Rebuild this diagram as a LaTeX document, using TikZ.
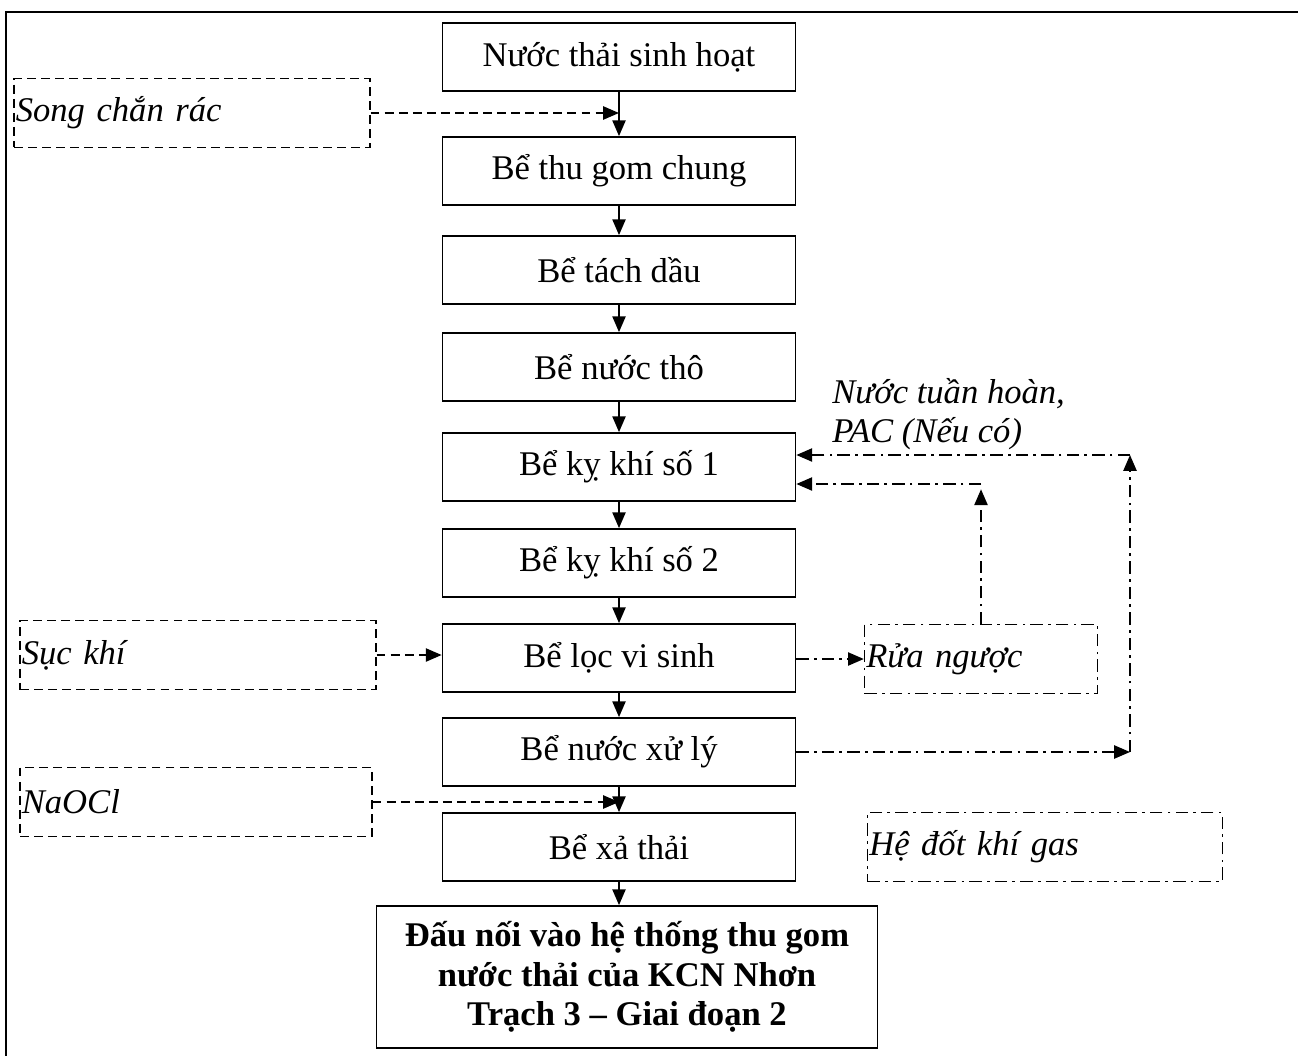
\documentclass[tikz,border=0pt]{standalone}
\usepackage{fontspec}
\setmainfont{Liberation Serif}
\usetikzlibrary{arrows.meta,positioning,calc}

\tikzset{
  stage/.style={draw, line width=1pt, minimum width=7.06cm, minimum height=1.36cm, inner sep=2pt},
  sidebox/.style={draw, line width=0.8pt, text width=#1, align=left, minimum height=1.38cm, inner xsep=1pt, font=\fontsize{19.7}{22}\selectfont\itshape},
  dashline/.style={dash pattern=on 5pt off 3pt},
  dotline/.style={dash pattern=on 7pt off 3pt on 1.5pt off 3pt}
}

\begin{document}
\begin{tikzpicture}[x=0.02cm, y=-0.02cm, >={Triangle[length=9pt,width=7.5pt]}, font=\fontsize{19.7}{22}\selectfont]
\useasboundingbox (0,0) rectangle (1298,1055);
\draw[line width=1pt] (6,1070) -- (6,12) -- (1310,12); % outer frame

% main line
\node[stage] (b1) at (619,57) {Nước thải sinh hoạt};
\node[stage] (b2) at (619,171) {Bể thu gom chung};
\node[stage] (b3) at (619,270) {Bể tách dầu};
\node[stage] (b4) at (619,367) {Bể nước thô};
\node[stage] (b5) at (619,467) {Bể kỵ khí số 1};
\node[stage] (b6) at (619,563) {Bể kỵ khí số 2};
\node[stage] (b7) at (619,658) {Bể lọc vi sinh};
\node[stage] (b8) at (619,752) {Bể nước xử lý};
\node[stage] (b9) at (619,847) {Bể xả thải};
\node[draw, line width=1pt, minimum width=10.02cm, minimum height=2.84cm, align=center, font=\fontsize{19.7}{22.5}\selectfont\bfseries] (out) at (627,977)
  {Đấu nối vào hệ thống thu gom\\ nước thải của KCN Nhơn\\ Trạch 3 – Giai đoạn 2};

\foreach \a/\b in {b1/b2, b2/b3, b3/b4, b4/b5, b5/b6, b6/b7, b7/b8, b8/b9}
  \draw[line width=1pt, ->] (\a) -- (\b);
\draw[line width=1pt, ->] (b9.south) -- (b9.south |- out.north);

% side inputs
\node[sidebox=7.05cm, dashline] (song) at (192,113) {Song chắn rác};
\node[sidebox=7.05cm, dashline] (suc) at (198,655) {Sục khí};
\node[sidebox=6.97cm, dashline] (naocl) at (196,802) {NaOCl};
\node[sidebox=4.59cm, dotline] (rua) at (981,659) {Rửa ngược};
\node[sidebox=7.03cm, dotline] (gas) at (1045,847) {Hệ đốt khí gas};
\node[anchor=north west, inner sep=0pt, align=left, font=\fontsize{19.7}{22.5}\selectfont\itshape] (note) at (832,378) {Nước tuần hoàn,\\ PAC (Nếu có)};

\coordinate (j1) at (b1.south |- song.east);
\coordinate (j2) at (b8.south |- naocl.east);
\coordinate (up1) at (981,484);
\coordinate (up2) at (1130,455);
\coordinate (dn2) at (1130,752);

\draw[line width=1pt, dashline, ->] (song.east) -- (j1);
\draw[line width=1pt, dashline, ->] (suc.east) -- (suc.east -| b7.west);
\draw[line width=1pt, dashline, ->] (naocl.east) -- (j2);

% recirculation
\draw[line width=1pt, dotline, ->] (b7.east |- rua.west) -- (rua.west);
\draw[line width=1pt, dotline, ->, shorten >=3pt] (rua.north) -- (up1);
\draw[line width=1pt, dotline, ->] (up1) -- (b5.east |- up1);
\draw[line width=1pt, dotline, ->] (b8.east) -- (dn2);
\draw[line width=1pt, dotline, ->] (dn2) -- (up2);
\draw[line width=1pt, dotline, ->] (up2) -- (b5.east |- up2);
\end{tikzpicture}
\end{document}
